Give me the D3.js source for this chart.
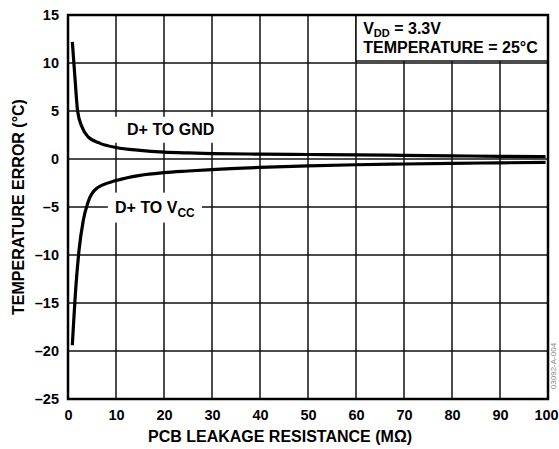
<!DOCTYPE html>
<html>
<head>
<meta charset="utf-8">
<script src="https://cdn.jsdelivr.net/npm/d3@7"></script>
<style>
  html, body { margin: 0; padding: 0; background: #fff; }
  svg { display: block; font-family: "Liberation Sans", Arial, Helvetica, sans-serif; font-weight: bold; }
</style>
</head>
<body>
<svg id="chart" width="559" height="449"></svg>
<script>
// Leakage resistance (MΩ) vs. temperature error (°C)
const gndResistance = [0.9, 1.5, 2.0, 2.9, 4.2, 6.7, 10, 15, 20, 25, 30, 40, 50, 60, 70, 80, 90, 99.5];
const gndError      = [12.2, 8.1, 5.0, 3.35, 2.3, 1.63, 1.2, 0.9, 0.72, 0.63, 0.57, 0.51, 0.47, 0.43, 0.38, 0.33, 0.28, 0.24];

const vccResistance = [0.9, 1.7, 2.3, 3.2, 4.2, 6.0, 10, 15, 20, 25, 30, 40, 50, 60, 70, 80, 90, 99.5];
const vccError      = [-19.4, -12.9, -9.5, -6.35, -4.45, -3.05, -2.25, -1.7, -1.42, -1.25, -1.1, -0.88, -0.72, -0.6, -0.52, -0.45, -0.4, -0.35];

const xTicks = [0, 10, 20, 30, 40, 50, 60, 70, 80, 90, 100];
const yTicks = [15, 10, 5, 0, -5, -10, -15, -20, -25];

const W = 559, H = 449;
const margin = { top: 15, right: 11, bottom: 50, left: 68 };
const iw = W - margin.left - margin.right;
const ih = H - margin.top - margin.bottom;

const svg = d3.select("#chart");
const g = svg.append("g").attr("transform", `translate(${margin.left},${margin.top})`);

const x = d3.scaleLinear().domain([0, 100]).range([0, iw]);
const y = d3.scaleLinear().domain([-25, 15]).range([ih, 0]);

const fmt = v => (v < 0 ? "\u2013" + Math.abs(v) : String(v));

// grid
g.append("g").selectAll("line").data(xTicks).join("line")
  .attr("x1", d => x(d)).attr("x2", d => x(d))
  .attr("y1", 0).attr("y2", ih)
  .attr("stroke", "#111").attr("stroke-width", 1.5);
g.append("g").selectAll("line").data(yTicks).join("line")
  .attr("y1", d => y(d)).attr("y2", d => y(d))
  .attr("x1", 0).attr("x2", iw)
  .attr("stroke", "#111").attr("stroke-width", 1.5);

// axes (labels only; the frame is drawn separately)
const xAxis = g.append("g").attr("transform", `translate(0,${ih})`)
  .call(d3.axisBottom(x).tickValues(xTicks).tickSize(0).tickPadding(11).tickFormat(fmt));
const yAxis = g.append("g")
  .call(d3.axisLeft(y).tickValues(yTicks).tickSize(0).tickPadding(9).tickFormat(fmt));
[xAxis, yAxis].forEach(a => {
  a.select(".domain").remove();
  a.selectAll("text").attr("font-size", 14.5).attr("font-weight", "bold")
    .attr("font-family", "Liberation Sans, Arial, sans-serif").attr("fill", "#000");
});
// keep the last x label inside the page
xAxis.selectAll(".tick").filter(d => d === 100).select("text").attr("dx", -2);

// label backgrounds that interrupt the grid
g.append("rect").attr("x", x(8.8)).attr("y", y(4.4)).attr("width", 110).attr("height", 26).attr("fill", "#fff");
g.append("rect").attr("x", x(8.3)).attr("y", y(-3.5)).attr("width", 94).attr("height", 30).attr("fill", "#fff");

// condition box
g.append("rect").attr("x", x(60)).attr("y", 0).attr("width", x(100) - x(60)).attr("height", 46)
  .attr("fill", "#fff").attr("stroke", "#111").attr("stroke-width", 1.5);

// curves
const line = d3.line().x(d => x(d[0])).y(d => y(d[1])).curve(d3.curveMonotoneX);
g.append("path").datum(d3.zip(gndResistance, gndError))
  .attr("d", line).attr("fill", "none").attr("stroke", "#000").attr("stroke-width", 3.2);
g.append("path").datum(d3.zip(vccResistance, vccError))
  .attr("d", line).attr("fill", "none").attr("stroke", "#000").attr("stroke-width", 3.2);

// frame
g.append("rect").attr("x", 0).attr("y", 0).attr("width", iw).attr("height", ih)
  .attr("fill", "none").attr("stroke", "#000").attr("stroke-width", 2.5);

// curve labels
g.append("text").attr("x", x(12.3)).attr("y", y(2.5)).attr("font-size", 16).text("D+ TO GND");
const vcc = g.append("text").attr("x", x(9.8)).attr("y", y(-5.6)).attr("font-size", 16);
vcc.append("tspan").text("D+ TO V");
vcc.append("tspan").attr("font-size", 12).attr("dy", 4).text("CC");

// condition text
const c1 = g.append("text").attr("x", x(61.5)).attr("y", 19).attr("font-size", 16);
c1.append("tspan").text("V");
c1.append("tspan").attr("font-size", 11).attr("dy", 3).text("DD");
c1.append("tspan").attr("dy", -3).text(" = 3.3V");
g.append("text").attr("x", x(61.5)).attr("y", 38).attr("font-size", 16).text("TEMPERATURE = 25\u00B0C");

// axis titles
svg.append("text").attr("x", 280).attr("y", 442).attr("text-anchor", "middle")
  .attr("font-size", 16).text("PCB LEAKAGE RESISTANCE (M\u03A9)");
svg.append("text").attr("transform", "translate(24,207) rotate(-90)").attr("text-anchor", "middle")
  .attr("font-size", 16).text("TEMPERATURE ERROR (\u00B0C)");

// figure code
svg.append("text").attr("transform", "translate(556,366) rotate(-90)").attr("text-anchor", "middle")
  .attr("font-size", 8).attr("font-weight", "normal").attr("fill", "#888").text("03092-A-004");
</script>
</body>
</html>
